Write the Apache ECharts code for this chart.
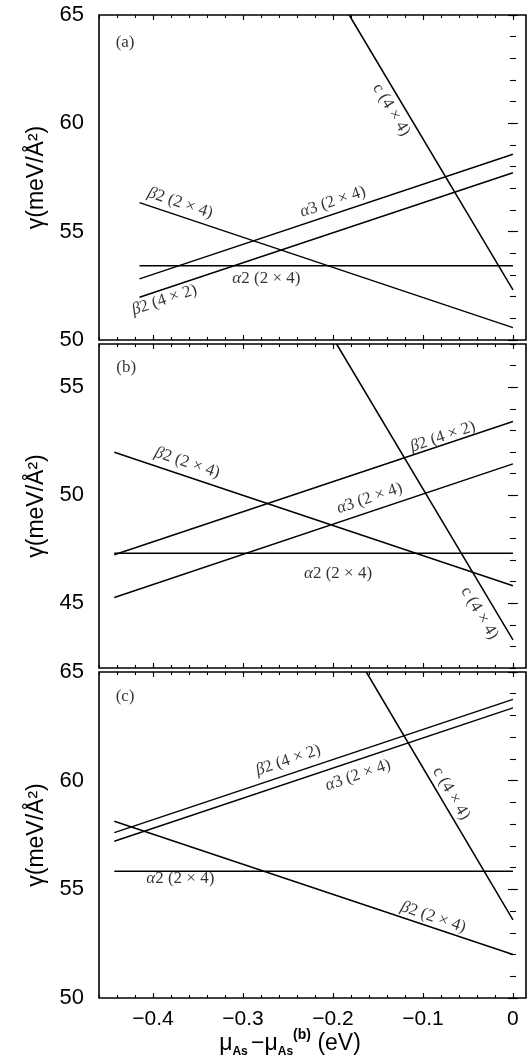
<!DOCTYPE html>
<html><head><meta charset="utf-8">
<script src="https://cdn.jsdelivr.net/npm/echarts@6/dist/echarts.min.js"></script>
<style>html,body{margin:0;padding:0;background:#fff}#c{width:532px;height:1063px}</style>
</head><body><div id="c"></div>
<script>
// ---- tick values ----
const xMajorTicks = [-0.4, -0.3, -0.2, -0.1, 0];
const xMinorTicks = [-0.46, -0.44, -0.42, -0.4, -0.38, -0.36, -0.34, -0.32, -0.3, -0.28, -0.26, -0.24, -0.22, -0.2,
  -0.18, -0.16, -0.14, -0.12, -0.1, -0.08, -0.06, -0.04, -0.02, 0];
const yMajorA = [50, 55, 60, 65];
const yMinorA = [50, 51, 52, 53, 54, 55, 56, 57, 58, 59, 60, 61, 62, 63, 64, 65];
const yMajorB = [45, 50, 55];
const yMinorB = [42, 43, 44, 45, 46, 47, 48, 49, 50, 51, 52, 53, 54, 55, 56, 57];
const yMajorC = [50, 55, 60, 65];
const yMinorC = [50, 51, 52, 53, 54, 55, 56, 57, 58, 59, 60, 61, 62, 63, 64, 65];

// ---- panel (a) lines: [mu, gamma] ----
const aBeta2_2x4 = [[-0.415, 56.34], [0, 50.57]];
const aAlpha3_2x4 = [[-0.415, 52.82], [0, 58.57]];
const aBeta2_4x2 = [[-0.415, 51.97], [0, 57.72]];
const aAlpha2_2x4 = [[-0.415, 53.43], [0, 53.43]];
const aC_4x4 = [[-0.182, 65], [0, 52.31]];
// ---- panel (b) ----
const bBeta2_2x4 = [[-0.443, 51.99], [0, 45.81]];
const bBeta2_4x2 = [[-0.443, 47.24], [0, 53.41]];
const bAlpha3_2x4 = [[-0.443, 45.26], [0, 51.45]];
const bAlpha2_2x4 = [[-0.443, 47.31], [0, 47.31]];
const bC_4x4 = [[-0.196, 57], [0, 43.30]];
// ---- panel (c) ----
const cBeta2_4x2 = [[-0.443, 57.61], [0, 63.74]];
const cAlpha3_2x4 = [[-0.443, 57.21], [0, 63.35]];
const cBeta2_2x4 = [[-0.443, 58.13], [0, 52.0]];
const cAlpha2_2x4 = [[-0.443, 55.83], [0, 55.83]];
const cC_4x4 = [[-0.163, 65], [0, 53.6]];

// ---- annotation texts ----
const panelNames = ['(a)', '(b)', '(c)'];
const txtB24 = '{i|β}2 (2 × 4)';
const txtB42 = '{i|β}2 (4 × 2)';
const txtA3 = '{i|α}3 (2 × 4)';
const txtA2 = '{i|α}2 (2 × 4)';
const txtC = 'c (4 × 4)';
// [text, mu, gamma, angle]
const annA = [[panelNames[0], -0.431, 63.75, 0], [txtB24, -0.3697, 56.32, -18.5], [txtA3, -0.2, 56.38, 18.4],
  [txtA2, -0.274, 52.86, 0], [txtB42, -0.3874, 51.85, 18.4], [txtC, -0.1352, 60.62, -59]];
const annB = [[panelNames[1], -0.4297, 55.89, 0], [txtB24, -0.3619, 51.5, -18.5], [txtB42, -0.0778, 52.71, 18.5],
  [txtA3, -0.1593, 49.86, 18.5], [txtA2, -0.1944, 46.39, 0], [txtC, -0.0371, 44.54, -59]];
const annC = [[panelNames[2], -0.431, 63.85, 0], [txtB42, -0.2497, 60.94, 18.7], [txtA3, -0.1722, 60.25, 18.7],
  [txtC, -0.0686, 59.41, -59], [txtA2, -0.3697, 55.49, 0], [txtB24, -0.0886, 53.72, -18.8]];

const panels = [
  {lines: [aBeta2_2x4, aAlpha3_2x4, aBeta2_4x2, aAlpha2_2x4, aC_4x4], ann: annA, yMin: 50, yMax: 65, yMaj: yMajorA, yMin2: yMinorA, top: 15, height: 325},
  {lines: [bBeta2_2x4, bBeta2_4x2, bAlpha3_2x4, bAlpha2_2x4, bC_4x4], ann: annB, yMin: 42, yMax: 57, yMaj: yMajorB, yMin2: yMinorB, top: 344, height: 324},
  {lines: [cBeta2_4x2, cAlpha3_2x4, cBeta2_2x4, cAlpha2_2x4, cC_4x4], ann: annC, yMin: 50, yMax: 65, yMaj: yMajorC, yMin2: yMinorC, top: 672, height: 326}
];

const X_MIN = -0.46, X_MAX = 0.0145;
const FONT = 'Liberation Sans, Arial, sans-serif';
const SERIF = 'Liberation Serif, Times New Roman, serif';

const grids = [], xAxes = [], yAxes = [], series = [];
panels.forEach((p, i) => {
  grids.push({left: 99, right: 6, top: p.top, height: p.height, show: true, borderColor: '#000', borderWidth: 1.6, backgroundColor: 'transparent'});
  const xBase = {type: 'value', gridIndex: i, min: X_MIN, max: X_MAX, axisLine: {show: false}, splitLine: {show: false}};
  const tickStyle = {color: '#000', width: 1.1};
  xAxes.push(Object.assign({}, xBase, {position: 'bottom',
    axisTick: {show: true, inside: true, length: 5, customValues: xMajorTicks, lineStyle: tickStyle},
    axisLabel: {show: i === 2, customValues: xMajorTicks, fontFamily: FONT, fontSize: 21, color: '#000', margin: 11,
      formatter: v => (Math.abs(v) < 1e-9 ? '0' : '\u2212' + Math.abs(v).toFixed(1))}}));
  xAxes.push(Object.assign({}, xBase, {position: 'bottom',
    axisTick: {show: true, inside: true, length: 3, customValues: xMinorTicks, lineStyle: tickStyle}, axisLabel: {show: false}}));
  xAxes.push(Object.assign({}, xBase, {position: 'top',
    axisTick: {show: true, inside: true, length: 5, customValues: xMajorTicks, lineStyle: tickStyle}, axisLabel: {show: false}}));
  xAxes.push(Object.assign({}, xBase, {position: 'top',
    axisTick: {show: true, inside: true, length: 3, customValues: xMinorTicks, lineStyle: tickStyle}, axisLabel: {show: false}}));
  const yBase = {type: 'value', gridIndex: i, min: p.yMin, max: p.yMax, axisLine: {show: false}, splitLine: {show: false}};
  yAxes.push(Object.assign({}, yBase, {position: 'left',
    name: 'γ(meV/Å²)', nameLocation: 'middle', nameRotate: 90, nameGap: 48,
    nameTextStyle: {fontFamily: FONT, fontSize: 23, color: '#000'},
    axisTick: {show: true, inside: true, length: 5, customValues: p.yMaj, lineStyle: tickStyle},
    axisLabel: {show: true, customValues: p.yMaj, fontFamily: FONT, fontSize: 22, color: '#000', margin: 15}}));
  yAxes.push(Object.assign({}, yBase, {position: 'left',
    axisTick: {show: true, inside: true, length: 3, customValues: p.yMin2, lineStyle: tickStyle}, axisLabel: {show: false}}));
  yAxes.push(Object.assign({}, yBase, {position: 'right',
    axisTick: {show: true, inside: true, length: 5, customValues: p.yMaj, lineStyle: tickStyle}, axisLabel: {show: false}}));
  yAxes.push(Object.assign({}, yBase, {position: 'right',
    axisTick: {show: true, inside: true, length: 3, customValues: p.yMin2, lineStyle: tickStyle}, axisLabel: {show: false}}));

  p.lines.forEach(d => {
    series.push({type: 'line', xAxisIndex: 4 * i, yAxisIndex: 4 * i, data: d, symbol: 'none', clip: true,
      lineStyle: {color: '#000', width: 1.5}, silent: true});
  });
  series.push({type: 'scatter', xAxisIndex: 4 * i, yAxisIndex: 4 * i, symbolSize: 0, silent: true,
    data: p.ann.map(a => ({value: [a[1], a[2]], label: {show: true, position: 'inside', rotate: a[3], formatter: a[0],
      fontFamily: SERIF, fontSize: 17, color: '#000',
      rich: {i: {fontFamily: SERIF, fontSize: 17, fontStyle: 'italic', color: '#000'}}}}))});
});

const chart = echarts.init(document.getElementById('c'), null, {renderer: 'canvas'});
chart.setOption({
  animation: false,
  backgroundColor: '#fff',
  grid: grids, xAxis: xAxes, yAxis: yAxes, series: series,
  graphic: [{
    type: 'text', x: 290, y: 1044,
    style: {
      text: '{m|μ}{s|As} {m|−μ}{s|As}{p|(b)}{m| (eV)}',
      textAlign: 'center', textVerticalAlign: 'middle', fill: '#000',
      rich: {
        m: {fontFamily: FONT, fontSize: 23, color: '#000', lineHeight: 34, verticalAlign: 'middle'},
        s: {fontFamily: FONT, fontSize: 12, fontWeight: 'bold', color: '#000', lineHeight: 34, padding: [15, 0, 0, 0]},
        p: {fontFamily: FONT, fontSize: 14, fontWeight: 'bold', color: '#000', lineHeight: 34, padding: [0, 0, 17, 0]}
      }
    }
  }]
});
</script></body></html>
